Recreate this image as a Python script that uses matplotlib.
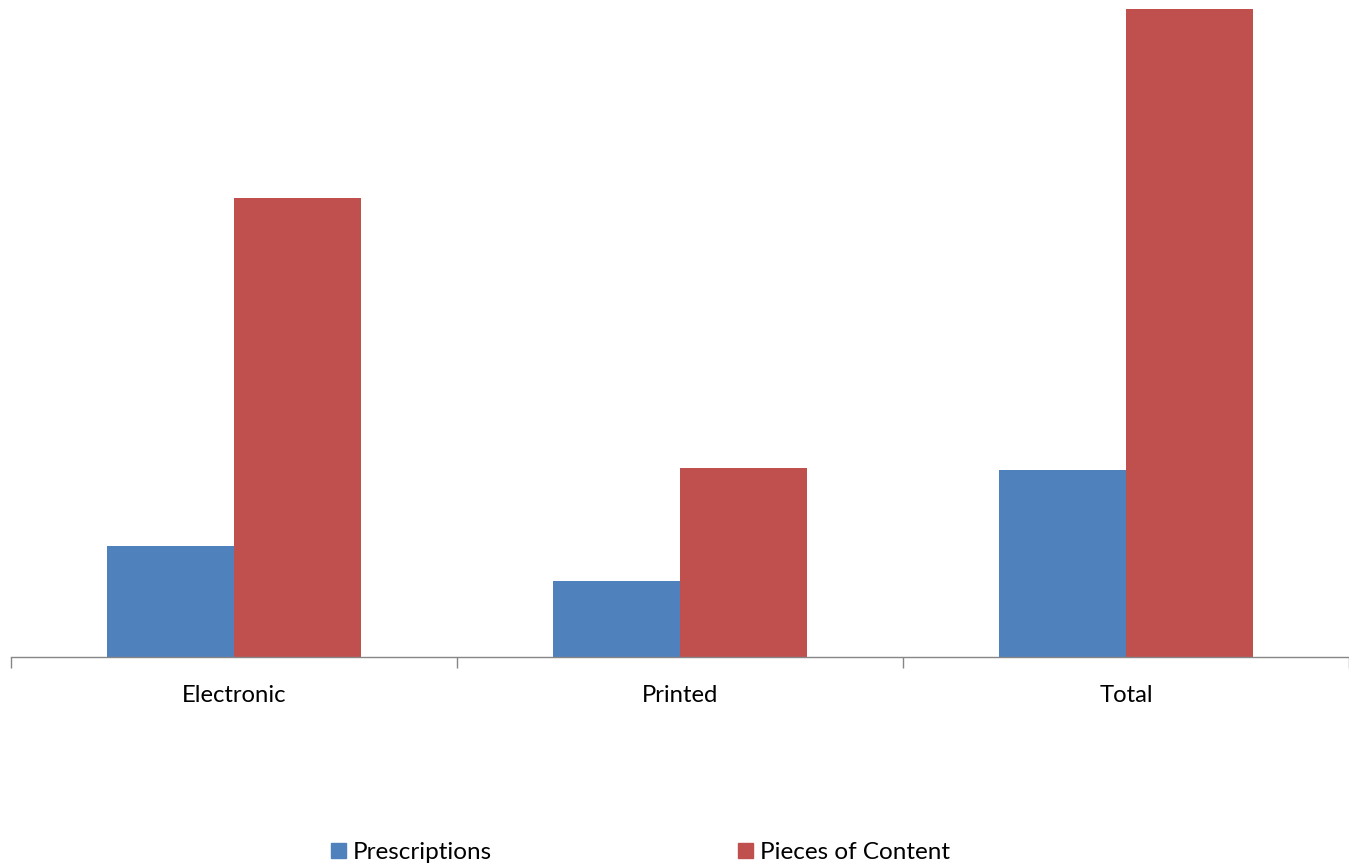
import numpy as np
import matplotlib
matplotlib.use("Agg")
import matplotlib.pyplot as plt
from matplotlib.patches import Patch

# ── data ──────────────────────────────────────────────────────────────────────
categories = ["Electronic", "Printed", "Total"]
prescriptions = [111, 76, 187]
pieces_of_content = [459, 189, 648]

BLUE = "#4F81BD"
RED = "#C0504D"
AXIS_GREY = "#868686"

plt.rcParams["font.family"] = ["Lato", "DejaVu Sans"]

fig = plt.figure(figsize=(13.49, 8.65), dpi=100)
ax = fig.add_axes([11 / 1349, 208 / 865, 1338 / 1349, 657 / 865])

x = np.arange(len(categories))
width = 0.285
ax.bar(x - width / 2, prescriptions, width, color=BLUE, label="Prescriptions")
ax.bar(x + width / 2, pieces_of_content, width, color=RED, label="Pieces of Content")

ax.set_xlim(-0.5, len(categories) - 0.5)
ax.set_ylim(0, 657)

# category axis: only the bottom spine, ticks between groups
for side in ("top", "right", "left"):
    ax.spines[side].set_visible(False)
ax.spines["bottom"].set_color(AXIS_GREY)
ax.spines["bottom"].set_linewidth(1.0)
ax.set_yticks([])

ax.set_xticks(np.arange(-0.5, len(categories), 1.0))
ax.set_xticklabels([])
ax.tick_params(axis="x", which="major", length=8, color=AXIS_GREY, width=1.0)
ax.set_xticks(x, minor=True)
ax.set_xticklabels(categories, minor=True, fontsize=17.2)
ax.tick_params(axis="x", which="minor", length=0, pad=20)

handles = [Patch(color=BLUE), Patch(color=RED)]
fig.legend(handles, ["Prescriptions", "Pieces of Content"],
           loc="center", bbox_to_anchor=(0.4748, 0.0145), ncol=2, frameon=False,
           fontsize=17.5, handlelength=0.62, handleheight=0.62, handletextpad=0.29,
           columnspacing=10.1, borderpad=0.2)

fig.savefig("out.png", dpi=100)
plt.close(fig)
